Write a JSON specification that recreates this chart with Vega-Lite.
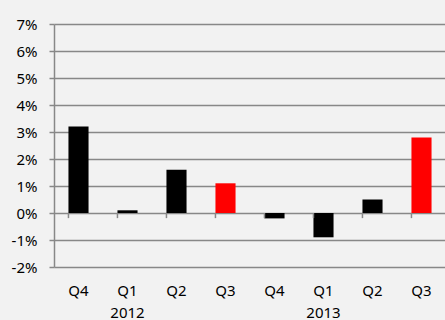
{
  "$schema": "https://vega.github.io/schema/vega-lite/v6.json",
  "autosize": "none",
  "width": 392,
  "height": 243,
  "padding": {"left": 54, "top": 24, "right": 0, "bottom": 53},
  "background": "#f2f2f2",
  "config": {
    "view": {"stroke": null},
    "font": "Noto Sans",
    "axis": {"labelFont": "Noto Sans", "labelColor": "#000000", "labelFontSize": 15}
  },
  "data": {
    "values": [
      {"period": "2011 Q4", "value": 0.032, "group": "other"},
      {"period": "2012 Q1", "value": 0.001, "group": "other"},
      {"period": "2012 Q2", "value": 0.016, "group": "other"},
      {"period": "2012 Q3", "value": 0.011, "group": "q3"},
      {"period": "2012 Q4", "value": -0.002, "group": "other"},
      {"period": "2013 Q1", "value": -0.009, "group": "other"},
      {"period": "2013 Q2", "value": 0.005, "group": "other"},
      {"period": "2013 Q3", "value": 0.028, "group": "q3"}
    ]
  },
  "encoding": {
    "x": {
      "field": "period",
      "type": "nominal",
      "sort": null,
      "scale": {"paddingInner": 0.59, "paddingOuter": 0.295},
      "axis": {
        "title": null,
        "domain": false,
        "ticks": false,
        "labelAngle": 0,
        "labelPadding": 16,
        "labelLineHeight": 22,
        "labelBaseline": "top",
        "labelExpr": "slice(datum.value,5)=='Q1' ? [slice(datum.value,5), slice(datum.value,0,4)] : slice(datum.value,5)"
      }
    }
  },
  "layer": [
    {
      "mark": {"type": "bar"},
      "encoding": {
        "y": {
          "field": "value",
          "type": "quantitative",
          "scale": {"domain": [-0.02, 0.07], "nice": false},
          "axis": {
            "title": null,
            "values": [-0.02, -0.01, 0, 0.01, 0.02, 0.03, 0.04, 0.05, 0.06, 0.07],
            "labelExpr": "round(datum.value*100) + '%'",
            "grid": true,
            "gridColor": "#888888",
            "gridWidth": 1.5,
            "domainColor": "#888888",
            "domainWidth": 1.5,
            "tickColor": "#888888",
            "tickWidth": 1.5,
            "tickSize": 5,
            "labelPadding": 12
          }
        },
        "color": {
          "field": "group",
          "type": "nominal",
          "scale": {"domain": ["other", "q3"], "range": ["#000000", "#ff0000"]},
          "legend": null
        }
      }
    },
    {
      "mark": {"type": "rule", "color": "#888888", "strokeWidth": 1.5},
      "encoding": {
        "x": {"field": "period", "type": "nominal", "sort": null, "bandPosition": 0},
        "y": {
          "datum": 0,
          "type": "quantitative",
          "axis": {
            "title": null,
            "values": [-0.02, -0.01, 0, 0.01, 0.02, 0.03, 0.04, 0.05, 0.06, 0.07],
            "labelExpr": "round(datum.value*100) + '%'",
            "grid": true,
            "gridColor": "#888888",
            "gridWidth": 1.5,
            "domainColor": "#888888",
            "domainWidth": 1.5,
            "tickColor": "#888888",
            "tickWidth": 1.5,
            "tickSize": 5,
            "labelPadding": 12
          }
        },
        "y2": {"datum": -0.0019}
      }
    }
  ]
}
